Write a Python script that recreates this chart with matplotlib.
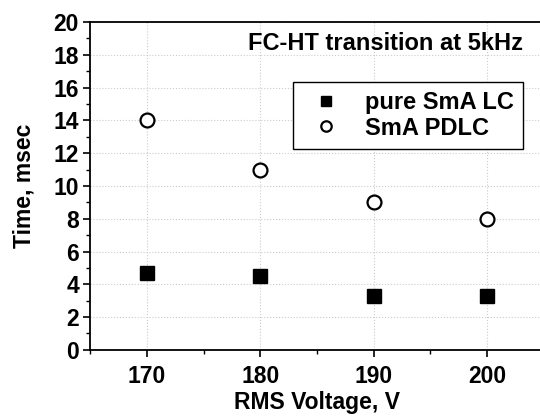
import matplotlib
matplotlib.use('Agg')
import matplotlib.pyplot as plt
from matplotlib.ticker import MultipleLocator

plt.rcParams['font.family'] = ['Liberation Sans', 'DejaVu Sans']
plt.rcParams['font.weight'] = 'bold'

# data
voltage = [170, 180, 190, 200]
pure_lc = [4.7, 4.5, 3.3, 3.3]
pdlc = [14, 11, 9, 8]

fig = plt.figure(figsize=(5.4, 4.17), dpi=100)
ax = fig.add_axes([0.167, 0.161, 0.84, 0.786])

ax.plot(voltage, pure_lc, 's', color='black', markersize=9.5, label='pure SmA LC', zorder=3)
ax.plot(voltage, pdlc, 'o', markerfacecolor='white', markeredgecolor='black',
        markeredgewidth=1.6, markersize=10, label='SmA PDLC', zorder=3)

ax.set_xlim(165, 205)
ax.set_ylim(0, 20)
ax.xaxis.set_major_locator(MultipleLocator(10))
ax.xaxis.set_minor_locator(MultipleLocator(5))
ax.yaxis.set_major_locator(MultipleLocator(2))
ax.yaxis.set_minor_locator(MultipleLocator(1))
ax.grid(True, which='major', color='#cccccc', linestyle=':', linewidth=0.8)
ax.set_axisbelow(True)

ax.spines['right'].set_visible(False)
for s in ['left', 'bottom', 'top']:
    ax.spines[s].set_linewidth(1.3)
ax.tick_params(which='major', direction='out', length=5, width=1.2, labelsize=16.5, pad=3)
ax.tick_params(which='minor', direction='out', length=3, width=1.0)
ax.tick_params(axis='x', pad=6)

ax.set_xlabel('RMS Voltage, V', fontsize=16.5, fontweight='bold')
ax.set_ylabel('Time, msec', fontsize=16.5, fontweight='bold')
ax.xaxis.set_label_coords(0.5, -0.125)
ax.yaxis.set_label_coords(-0.145, 0.5)
ax.yaxis.label.set_va('center')

ax.text(0.955, 0.935, 'FC-HT transition at 5kHz', transform=ax.transAxes,
        ha='right', va='center', fontsize=17, fontweight='bold')

leg = ax.legend(loc='upper right', bbox_to_anchor=(0.955, 0.818), fontsize=17,
                frameon=True, fancybox=False, edgecolor='black', framealpha=1,
                handletextpad=0.65, borderpad=0.4, labelspacing=0.1, handlelength=2.0,
                borderaxespad=0)
leg.get_frame().set_linewidth(1.0)
for h in leg.legend_handles:
    h.set_markersize(7.5)

fig.savefig('out.png', dpi=100)
plt.close(fig)
